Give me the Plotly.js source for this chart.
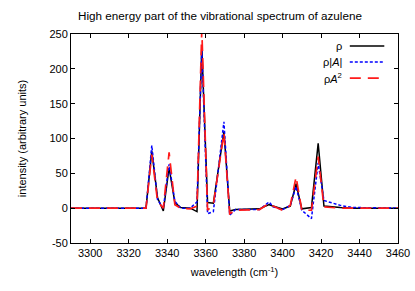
<!DOCTYPE html>
<html>
<head>
<meta charset="utf-8">
<script src="https://cdn.plot.ly/plotly-3.0.1.min.js"></script>
<style>html,body{margin:0;padding:0;background:#fff;}#chart{width:415px;height:291px;}</style>
</head>
<body>
<div id="chart"></div>
<script>
var wavenumber = [3290, 3329, 3332, 3335, 3338, 3341, 3344, 3347, 3352, 3355.5, 3358, 3361, 3364, 3369.5, 3372.5, 3375.5, 3388, 3393, 3395, 3400, 3404, 3407, 3410, 3415, 3418.5, 3421.5, 3430, 3436, 3460];
var rho      = [0, 0, 82, 15, -4, 58, 8, 1, 0, -5, 232, 8, 7, 110, -4, -2, -1, 5, 3, -1, 3, 35, -1, 1, 93, 3, 1, 0, 0];
var rhoAbsA  = [0, 0, 90, 12, 0, 63, 10, 0, 0, 9, 228, -8, -5, 124, -10, -2, -2, 9, 2, -2, 4, 31, -3, -15, 65, 11, 4, 1, 0];
var rhoA2    = [0, 0, 77, 10, 0, 80, 5, 0, -1, 3, 256, -3, 5, 108, -8, -3, -2, 7, 3, -3, 4, 45, -3, -3, 74, 2, 0, 0, 0];
var seriesNames = ["ρ", "ρ|<i>A</i>|", "ρ<i>A</i><sup>2</sup>"];
var xTicks = [3300, 3320, 3340, 3360, 3380, 3400, 3420, 3440, 3460];
var yTicks = [-50, 0, 50, 100, 150, 200, 250];

var font = {family: "Liberation Sans, Arial, sans-serif", size: 11, color: "#000"};
var styles = [
  {color: "#000000", width: 1.5, dash: "solid"},
  {color: "#0000ff", width: 1.5, dash: "3px,2px"},
  {color: "#ff1a1a", width: 1.7, dash: "11px,7px"}
];
var ys = [rho, rhoAbsA, rhoA2];
var traces = ys.map(function(y, i){
  return {x: wavenumber, y: y, type: "scatter", mode: "lines", name: seriesNames[i],
          line: styles[i], showlegend: false, hoverinfo: "skip"};
});

var plotTop = 34, plotBottom = 242.8;
var legendY = [46, 62, 78];
var annotations = [], shapes = [];
for (var i = 0; i < 3; i++) {
  var yp = (plotBottom - legendY[i]) / (plotBottom - plotTop);
  annotations.push({text: seriesNames[i], xref: "paper", yref: "paper", x: (343.5-70.7)/327, y: yp,
    xanchor: "right", yanchor: "middle", showarrow: false, font: font});
  shapes.push({type: "line", xref: "paper", yref: "paper", x0: (349.5-70.7)/327, x1: (384-70.7)/327,
    y0: yp, y1: yp, line: styles[i]});
}

var layout = {
  width: 415, height: 291,
  margin: {l: 70.7, r: 17.3, t: 34, b: 48.2, pad: 0},
  paper_bgcolor: "#fff", plot_bgcolor: "#fff",
  font: font,
  title: {text: "High energy part of the vibrational spectrum of azulene", font: {family: font.family, size: 11.7, color: "#000"},
          xref: "container", yref: "container", x: 0.53, y: 1 - 16/291, xanchor: "center", yanchor: "middle"},
  xaxis: {range: [3290, 3460], tickvals: xTicks, ticktext: xTicks.map(String), ticks: "inside", ticklen: 4, tickcolor: "#000",
          showline: true, linecolor: "#000", linewidth: 1, mirror: "allticks", showgrid: false, zeroline: false,
          title: {text: "wavelength (cm<sup>-1</sup>)", font: font, standoff: 10}, tickfont: font},
  yaxis: {range: [-50, 250], tickvals: yTicks, ticktext: yTicks.map(String), ticks: "inside", ticklen: 4, tickcolor: "#000",
          showline: true, linecolor: "#000", linewidth: 1, mirror: "allticks", showgrid: false, zeroline: false,
          title: {text: "intensity (arbitrary units)", font: font, standoff: 20}, tickfont: font},
  annotations: annotations,
  shapes: shapes,
  showlegend: false
};
Plotly.newPlot("chart", traces, layout, {staticPlot: true, displayModeBar: false});
</script>
</body>
</html>
